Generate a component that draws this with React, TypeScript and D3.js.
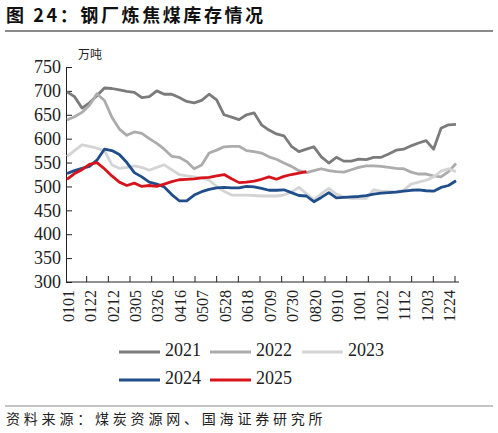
import { useEffect, useRef } from 'react';
import * as d3 from 'd3';

const weeks = d3.range(53);
const tickLabels = ['0101', '0122', '0212', '0305', '0326', '0416', '0507', '0528', '0618', '0709', '0730', '0820', '0910', '1001', '1022', '1112', '1203', '1224'];
const yTicks = [300, 350, 400, 450, 500, 550, 600, 650, 700, 750];

const s2021 = [698, 688, 664, 675, 690, 706, 705, 702, 699, 697, 686, 688, 700, 693, 693, 686, 678, 675, 680, 693, 681, 650, 645, 640, 650, 654, 629, 618, 610, 606, 584, 573, 578, 583, 562, 549, 561, 553, 553, 557, 556, 561, 561, 568, 576, 578, 585, 591, 596, 578, 622, 629, 630];
const s2022 = [639, 646, 655, 670, 694, 680, 645, 620, 607, 614, 611, 600, 590, 578, 563, 561, 552, 537, 545, 570, 576, 583, 584, 584, 575, 573, 570, 562, 557, 549, 542, 533, 529, 533, 537, 533, 531, 530, 535, 540, 543, 543, 542, 540, 538, 537, 530, 526, 526, 522, 520, 531, 548];
const s2023 = [563, 575, 587, 584, 580, 575, 545, 538, 540, 543, 540, 534, 540, 545, 535, 525, 522, 520, 518, 513, 500, 490, 482, 482, 482, 481, 480, 480, 480, 482, 488, 498, 485, 472, 485, 496, 484, 478, 475, 475, 475, 493, 490, 489, 489, 492, 505, 509, 513, 520, 532, 537, 531];
const s2024 = [527, 533, 538, 542, 555, 578, 575, 567, 550, 529, 520, 509, 505, 499, 483, 470, 470, 482, 489, 494, 497, 498, 497, 497, 500, 499, 496, 492, 492, 493, 487, 481, 480, 468, 477, 487, 476, 477, 478, 479, 481, 484, 486, 487, 488, 490, 492, 493, 491, 490, 498, 502, 512];
const s2025 = [515, 527, 535, 546, 550, 537, 522, 509, 502, 507, 500, 502, 500, 505, 510, 514, 515, 516, 518, 519, 522, 525, 516, 508, 509, 511, 515, 520, 515, 521, 525, 528, 531];

const seriesNames = ['2021', '2022', '2023', '2024', '2025'];
const seriesData = [s2021, s2022, s2023, s2024, s2025];
const seriesColors = ['#7b7b7b', '#acacac', '#d4d4d4', '#1f4e8a', '#d7141c'];

const serif = '"Liberation Serif", "DejaVu Serif", serif';
const cjk = '"Noto Sans CJK SC", sans-serif';

export default function App() {
  const svgRef = useRef<SVGSVGElement>(null);

  useEffect(() => {
    if (!svgRef.current) return;
    const svg = d3.select(svgRef.current);
    svg.selectAll('*').remove();

    const width = 498;
    const height = 433;
    const plot = { left: 66, right: 459, top: 67, bottom: 282 };

    svg.attr('width', width).attr('height', height);
    svg.append('rect').attr('width', width).attr('height', height).attr('fill', '#fff');

    // title
    svg.append('text').attr('x', 6).attr('y', 22).attr('font-family', cjk).attr('font-weight', 'bold')
      .attr('font-size', 18).attr('letter-spacing', 2.6).attr('fill', '#111').text('图 24：钢厂炼焦煤库存情况');
    svg.append('line').attr('x1', 5).attr('x2', 493).attr('y1', 31).attr('y2', 31)
      .attr('stroke', '#8a8a8a').attr('stroke-width', 2);

    const x = d3.scaleLinear().domain([0, 52]).range([67, 456]);
    const y = d3.scaleLinear().domain([300, 750]).range([plot.bottom, plot.top]);
    const tickPos = d3.scaleLinear().domain([0, tickLabels.length]).range([plot.left - 1, 455]);

    // unit
    svg.append('text').attr('x', 78).attr('y', 59).attr('font-family', cjk).attr('font-size', 12)
      .attr('fill', '#222').text('万吨');

    // y axis
    const yAxis = svg.append('g').attr('transform', 'translate(' + plot.left + ',0)')
      .call(d3.axisLeft(y).tickValues(yTicks).tickSizeInner(-6).tickSizeOuter(0).tickPadding(5));
    yAxis.select('.domain').attr('stroke', '#222');
    yAxis.selectAll('.tick line').attr('stroke', '#222');
    yAxis.selectAll('.tick text').attr('font-family', serif).attr('font-size', 18).attr('fill', '#222');

    // x axis
    svg.append('line').attr('x1', plot.left).attr('x2', plot.right).attr('y1', plot.bottom).attr('y2', plot.bottom)
      .attr('stroke', '#222');
    d3.range(1, tickLabels.length + 1).forEach((k) => {
      svg.append('line').attr('x1', tickPos(k)).attr('x2', tickPos(k))
        .attr('y1', plot.bottom).attr('y2', plot.bottom - 6).attr('stroke', '#222');
    });
    tickLabels.forEach((lab, k) => {
      svg.append('text')
        .attr('transform', 'translate(' + (x(k * 3) + 3) + ',' + (plot.bottom + 8) + ') rotate(-90)')
        .attr('text-anchor', 'end').attr('dominant-baseline', 'middle')
        .attr('font-family', serif).attr('font-size', 16).attr('fill', '#222').text(lab);
    });

    // lines
    const line = d3.line<number>().x((_, i) => x(weeks[i])).y((d) => y(d));
    seriesData.forEach((data, i) => {
      svg.append('path').datum(data).attr('d', line).attr('fill', 'none')
        .attr('stroke', seriesColors[i]).attr('stroke-width', 2.8).attr('stroke-linejoin', 'round');
    });

    // legend
    const legendPos = [[119, 352], [210, 352], [302, 352], [119, 380], [210, 380]];
    seriesNames.forEach((name, i) => {
      const [lx, ly] = legendPos[i];
      svg.append('line').attr('x1', lx).attr('x2', lx + 41).attr('y1', ly).attr('y2', ly)
        .attr('stroke', seriesColors[i]).attr('stroke-width', 3);
      svg.append('text').attr('x', lx + 46).attr('y', ly).attr('dominant-baseline', 'middle')
        .attr('font-family', serif).attr('font-size', 18).attr('fill', '#222').text(name);
    });

    // source
    svg.append('line').attr('x1', 5).attr('x2', 493).attr('y1', 406).attr('y2', 406)
      .attr('stroke', '#8a8a8a').attr('stroke-width', 1);
    svg.append('text').attr('x', 6).attr('y', 424).attr('font-family', cjk).attr('font-size', 14)
      .attr('letter-spacing', 3.8).attr('fill', '#222').text('资料来源：煤炭资源网、国海证券研究所');
  }, []);

  return <svg ref={svgRef} style={{ position: 'absolute', left: 0, top: 0 }}></svg>;
}
